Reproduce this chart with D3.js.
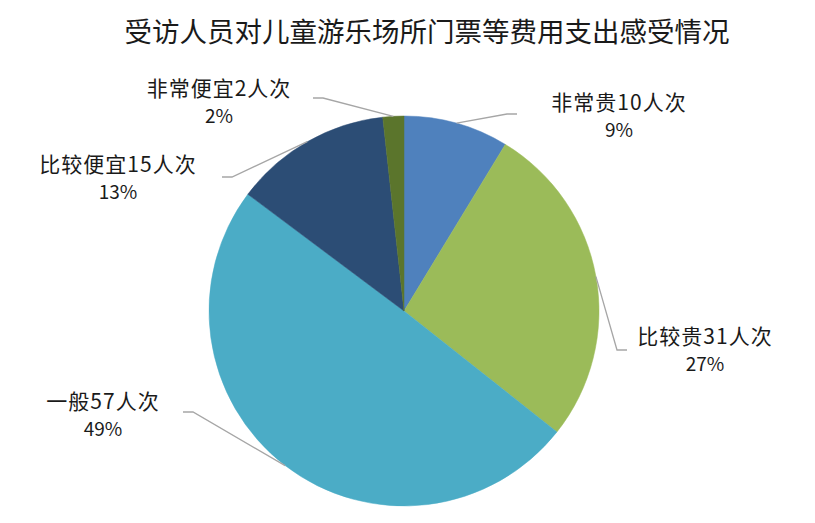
<!DOCTYPE html>
<html>
<head>
<meta charset="utf-8">
<script src="https://cdn.jsdelivr.net/npm/d3@7"></script>
<style>
  html, body { margin: 0; padding: 0; background: #fff; }
  svg { display: block; font-family: "Noto Sans CJK SC", "Noto Sans", sans-serif; }
</style>
</head>
<body>
<svg id="chart" width="815" height="523"></svg>
<script>
// ---- data ----
const title = "受访人员对儿童游乐场所门票等费用支出感受情况";
const categories = ["非常贵", "比较贵", "一般", "比较便宜", "非常便宜"];
const values = [10, 31, 57, 15, 2];
const percentLabels = ["9%", "27%", "49%", "13%", "2%"];
const unit = "人次";

// ---- styles / layout (not data) ----
const colors = ["#4F81BD", "#9BBB59", "#4BACC6", "#2C4D75", "#5B752C"];
const cx = 404, cy = 311, radius = 195;
// label block centres & leader line end points, relative to the pie centre
const labelLayout = [
  { lx: 215, ly: -197, ex: 113, ey: -197, side: 1 },
  { lx: 301, ly: 37,   ex: 223,  ey: 39,   side: 1 },
  { lx: -301, ly: 102, ex: -221, ey: 101,  side: -1 },
  { lx: -286, ly: -135, ex: -182, ey: -134, side: -1 },
  { lx: -185, ly: -211, ex: -91, ey: -213,  side: -1 }
];

const svg = d3.select("#chart");

svg.append("text")
  .attr("x", 427).attr("y", 30)
  .attr("text-anchor", "middle")
  .attr("dominant-baseline", "central")
  .attr("font-size", 27.5)
  .attr("fill", "#1a1a1a")
  .text(title);

const data = categories.map((c, i) => ({ name: c, value: values[i], pct: percentLabels[i], idx: i }));

const pie = d3.pie().value(d => d.value).sort(null).startAngle(0);
const arcs = pie(data);
const arc = d3.arc().innerRadius(0).outerRadius(radius);
const edgeArc = d3.arc().innerRadius(radius).outerRadius(radius);

const g = svg.append("g").attr("transform", `translate(${cx},${cy})`);

g.selectAll("path.slice")
  .data(arcs)
  .join("path")
  .attr("class", "slice")
  .attr("d", arc)
  .attr("fill", (d, i) => colors[i])
  .attr("stroke", (d, i) => colors[i])
  .attr("stroke-width", 0.5);

// leader lines
g.selectAll("polyline.leader")
  .data(arcs)
  .join("polyline")
  .attr("class", "leader")
  .attr("fill", "none")
  .attr("stroke", "#A6A6A6")
  .attr("stroke-width", 1.3)
  .attr("points", (d, i) => {
    const L = labelLayout[i];
    const start = edgeArc.centroid(d);
    const elbow = [L.ex - L.side * 10, L.ey];
    return [start, elbow, [L.ex, L.ey]].map(p => p.join(",")).join(" ");
  });

// labels
const lbl = g.selectAll("g.label")
  .data(arcs)
  .join("g")
  .attr("class", "label")
  .attr("transform", (d, i) => `translate(${labelLayout[i].lx},${labelLayout[i].ly})`);

lbl.append("text")
  .attr("y", -13)
  .attr("text-anchor", "middle")
  .attr("dominant-baseline", "central")
  .attr("font-size", 21)
  .attr("letter-spacing", 1)
  .attr("fill", "#1a1a1a")
  .text(d => d.data.name + d.data.value + unit);

lbl.append("text")
  .attr("y", 14)
  .attr("text-anchor", "middle")
  .attr("dominant-baseline", "central")
  .attr("font-size", 19)
  .attr("fill", "#1a1a1a")
  .text(d => d.data.pct);
</script>
</body>
</html>
